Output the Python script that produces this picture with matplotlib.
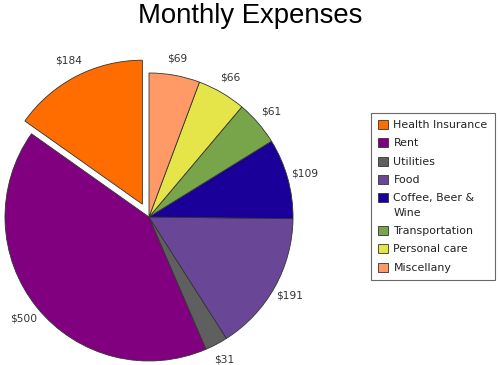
import matplotlib
matplotlib.use("Agg")
import matplotlib.pyplot as plt

categories = ["Health Insurance", "Rent", "Utilities", "Food", "Coffee, Beer &\nWine",
              "Transportation", "Personal care", "Miscellany"]
amounts = [184, 500, 31, 191, 109, 61, 66, 69]
colors = ["#ff6d00", "#800080", "#5f5f5f", "#6a4796", "#1a0099", "#79a54a", "#e5e54a", "#ff9966"]
explode = [0.1, 0, 0, 0, 0, 0, 0, 0]

fig = plt.figure(figsize=(5, 3.65), dpi=100)
fig.text(0.5, 0.955, "Monthly Expenses", ha="center", va="center", fontsize=19.8,
         family="Liberation Sans", color="black")

ax = fig.add_axes([5 / 500, 4 / 365, 288 / 500, 288 / 365])
wedges, texts = ax.pie(amounts, colors=colors, explode=explode, startangle=90,
                       counterclock=True, labels=["$%d" % a for a in amounts],
                       labeldistance=1.12,
                       wedgeprops=dict(edgecolor="#333333", linewidth=0.6),
                       textprops=dict(fontsize=7.7, color="#333333"))
for w in wedges:
    w.set_clip_on(False)
for t in texts:
    t.set_clip_on(False)
    t.set_ha("center")
ax.set_xlim(-1, 1)
ax.set_ylim(-1, 1)
ax.set_aspect("equal")
ax.axis("off")

leg = fig.legend(wedges, categories, loc="upper left",
                 bbox_to_anchor=(371 / 500, 1 - 113 / 365),
                 fontsize=7.9, frameon=True, fancybox=False,
                 handlelength=0.9, handleheight=0.9, handletextpad=0.5,
                 labelspacing=0.75, borderpad=0.65, borderaxespad=0)
leg.get_frame().set_edgecolor("#444444")
leg.get_frame().set_linewidth(0.8)
for txt in leg.get_texts():
    txt.set_color("#222222")
    txt.set_linespacing(1.6)
# put the square next to the first line of a wrapped label
for col in leg._legend_handle_box.get_children():
    for item in col.get_children():
        item.align = "top"

fig.savefig("out.png", dpi=100)
